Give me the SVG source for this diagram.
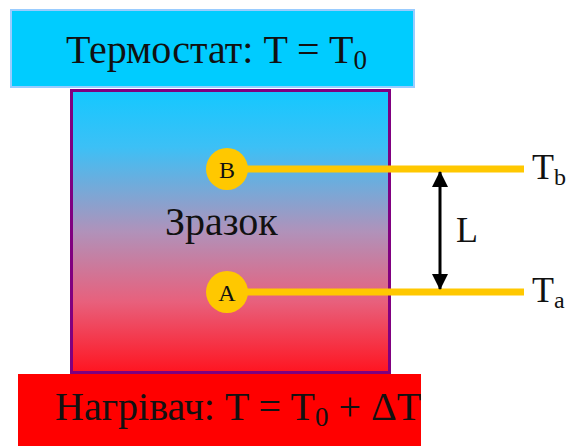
<svg xmlns="http://www.w3.org/2000/svg" width="567" height="446" viewBox="0 0 567 446">
<style>
text{font-family:'Liberation Serif','DejaVu Serif','Times New Roman',serif;fill:#111;}
.big{font-size:40px;}
.mid{font-size:36px;}
.sm{font-size:24px;}
.wire{stroke:#FFC800;stroke-width:7;fill:none;}
.dot{fill:#FFC800;}
</style>
<defs>
<linearGradient id="g" x1="0" y1="0" x2="0" y2="1">
<stop offset="0" stop-color="#14C8FF"/>
<stop offset="0.2" stop-color="#3CC0F6"/>
<stop offset="0.5" stop-color="#B092BA"/>
<stop offset="0.75" stop-color="#E8607C"/>
<stop offset="1" stop-color="#FF1420"/>
</linearGradient>
<marker id="ah" viewBox="0 0 16 16" refX="15" refY="8" markerWidth="16" markerHeight="16" markerUnits="userSpaceOnUse" orient="auto-start-reverse">
<path d="M0,0 L16,8 L0,16 z" fill="#000"/>
</marker>
</defs>
<g id="thermostat">
<rect x="11" y="10" width="403" height="77" fill="#00CCFF" stroke="#99CCFF" stroke-width="2"/>
<text class="big" x="66" y="63" font-family="Liberation Serif, serif">Термостат: T = T<tspan font-size="27" dy="6">0</tspan></text>
</g>
<g id="sample">
<rect x="71.5" y="90.5" width="318" height="282" fill="url(#g)" stroke="#800080" stroke-width="3"/>
<text class="big" x="165" y="235" font-family="Liberation Serif, serif">Зразок</text>
</g>
<g id="heater">
<rect x="18" y="374" width="403" height="80" fill="#FF0000"/>
<text class="big" x="55" y="420" font-family="Liberation Serif, serif">Нагрівач: T = T<tspan font-size="27" dy="6">0</tspan><tspan dy="-6"> + ΔT</tspan></text>
</g>
<g id="connectors">
<line class="wire" x1="227" y1="169" x2="524" y2="169"/>
<line class="wire" x1="227" y1="292" x2="524" y2="292"/>
<line x1="440" y1="172" x2="440" y2="289" stroke="#000" stroke-width="3" marker-start="url(#ah)" marker-end="url(#ah)"/>
</g>
<g id="pointB">
<circle class="dot" cx="227" cy="169" r="21"/>
<text class="sm" x="227" y="178" text-anchor="middle" font-family="Liberation Serif, serif">B</text>
</g>
<g id="pointA">
<circle class="dot" cx="227" cy="292" r="21"/>
<text class="sm" x="227" y="301" text-anchor="middle" font-family="Liberation Serif, serif">A</text>
</g>
<g id="labelTb">
<text class="mid" x="532" y="179" font-family="Liberation Serif, serif">T<tspan font-size="24" dy="6">b</tspan></text>
</g>
<g id="labelTa">
<text class="mid" x="532" y="302" font-family="Liberation Serif, serif">T<tspan font-size="24" dy="6">a</tspan></text>
</g>
<g id="labelL">
<text class="mid" x="456" y="242" font-family="Liberation Serif, serif">L</text>
</g>
</svg>
